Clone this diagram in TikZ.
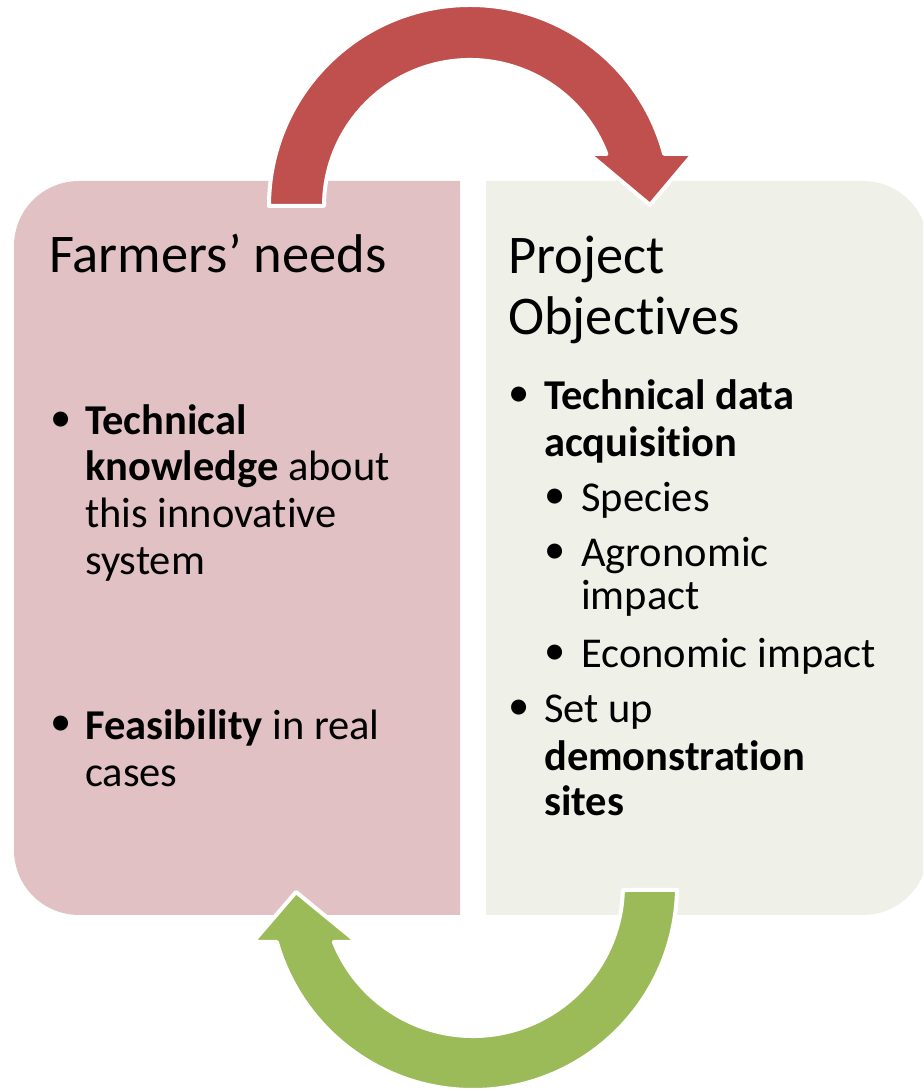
\documentclass[tikz,border=0pt]{standalone}
\usepackage{fontspec}
\setmainfont{Carlito}[Ligatures={NoCommon,NoRare,NoContextual},RawFeature={-liga;-dlig;-calt}]
\definecolor{pinkbox}{RGB}{226,193,196}
\definecolor{greybox}{RGB}{239,241,233}
\definecolor{redarrow}{RGB}{192,80,77}
\definecolor{greenarrow}{RGB}{155,187,89}
\begin{document}
\begin{tikzpicture}[x=1pt,y=1pt,
  title/.style={anchor=base west, inner sep=0pt, font=\fontsize{54.5}{61}\selectfont},
  body/.style={anchor=base west, inner sep=0pt, font=\fontsize{42.5}{47}\selectfont},
  bul/.style={anchor=center, inner sep=0pt, font=\fontsize{42.5}{47}\selectfont},
  cyclearrow/.style={draw=white, line width=4pt, line join=round}]
\useasboundingbox (0,0) rectangle (923,1091);
\clip (0,0) rectangle (923,1091);
% boxes
\fill[pinkbox] (460,910) -- (79,910) arc[start angle=90,end angle=180,radius=65]
  -- (14,241) arc[start angle=180,end angle=270,radius=65] -- (460,176) -- cycle;
\fill[greybox] (486,910) -- (863,910) arc[start angle=90,end angle=0,radius=65]
  -- (928,241) arc[start angle=0,end angle=-90,radius=65] -- (486,176) -- cycle;
% top red arrow
\filldraw[cyclearrow, fill=redarrow] (269,885) arc[start angle=180,end angle=15,radius=201]
  -- (693,937) -- (650,886) -- (589,937) -- (606.4,937)
  arc[start angle=20.87,end angle=180,radius=146] -- cycle;
% bottom green arrow
\filldraw[cyclearrow, fill=greenarrow] (676.96,201.08) arc[start angle=-1.1,end angle=-164.07,radius=204]
  -- (253,149) -- (296,199) -- (357,149) -- (333.8,149)
  arc[start angle=-158.08,end angle=-1.53,radius=150] -- cycle;
% left text
\node[title] (lt) at (49,818) {Farmers’ needs};
\node[bul] (lb1) at (61,669) {•};
\node[body] (l1) at (85,656) {\textbf{Technical}};
\node[body] (l2) at (85,610) {\textbf{knowledge} about};
\node[body] (l3) at (85,563) {this innovative};
\node[body] (l4) at (85,516) {system};
\node[bul] (lb2) at (61,365) {•};
\node[body] (l5) at (85,351) {\textbf{Feasibility} in real};
\node[body] (l6) at (85,304) {cases};
% right text
\node[title] (rt1) at (508,817) {Project};
\node[title] (rt2) at (508,756) {Objectives};
\node[bul] (rb1) at (519,694.5) {•};
\node[body] (r1) at (544,681) {\textbf{Technical data}};
\node[body] (r2) at (544,634) {\textbf{acquisition}};
\node[bul] (rs1) at (555,592.5) {•};
\node[body] (r3) at (581,579) {Species};
\node[bul] (rs2) at (555,537.5) {•};
\node[body] (r4) at (581,524) {Agronomic};
\node[body] (r5) at (581,481) {impact};
\node[bul] (rs3) at (555,436.5) {•};
\node[body] (r6) at (581,423) {Economic impact};
\node[bul] (rb2) at (519,381.5) {•};
\node[body] (r7) at (544,368) {Set up};
\node[body] (r8) at (544,320) {\textbf{demonstration}};
\node[body] (r9) at (544,275) {\textbf{sites}};
\end{tikzpicture}
\end{document}
